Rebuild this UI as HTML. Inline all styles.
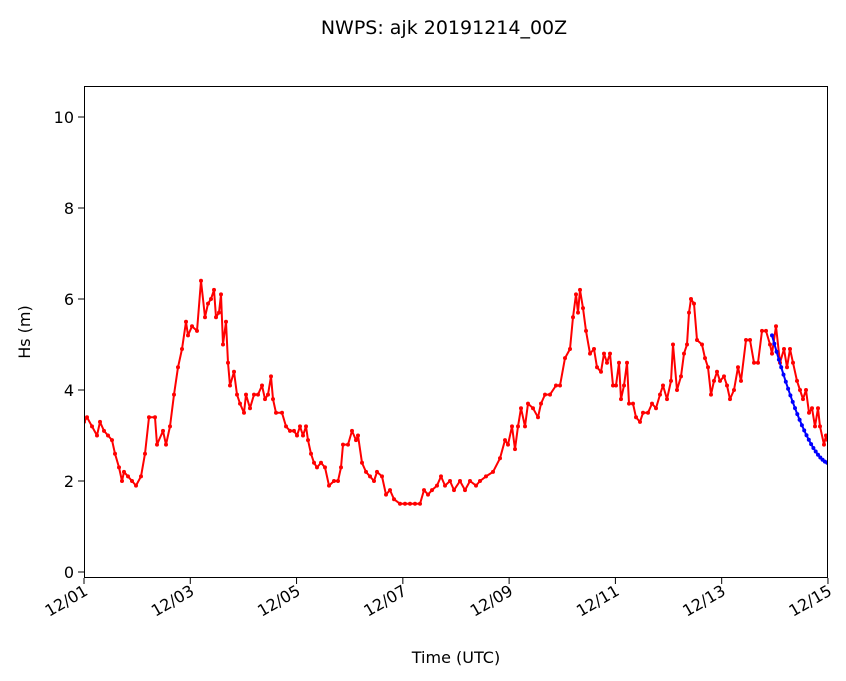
<!DOCTYPE html>
<html><head><meta charset="utf-8"><style>
html,body{margin:0;padding:0;background:#fff;}
svg{display:block;font-family:"DejaVu Sans","Liberation Sans",sans-serif;}
</style></head><body>
<svg id="s" width="846" height="681" viewBox="0 0 846 681" xmlns="http://www.w3.org/2000/svg">
<rect width="846" height="681" fill="#fff"/>
<text x="444" y="34" font-size="19" text-anchor="middle" fill="#000">NWPS: ajk 20191214_00Z</text>
<g id="plot"></g>
<rect x="84.5" y="86.5" width="743" height="491" fill="none" stroke="#000" stroke-width="1"/>
<g id="ax" font-size="16" fill="#000"></g>
<text x="0" y="0" font-size="16" text-anchor="middle" transform="translate(30,332) rotate(-90)">Hs (m)</text>
<text x="456" y="663" font-size="16" text-anchor="middle">Time (UTC)</text>
</svg>
<script>
var Y=function(v){return 572-45.5*v;};
var d=[84,3.3,87,3.4,92,3.2,97,3.0,100,3.3,104,3.1,108,3.0,112,2.9,115,2.6,119,2.3,122,2.0,124,2.2,128,2.1,132,2.0,136,1.9,141,2.1,145,2.6,149,3.4,155,3.4,157,2.8,163,3.1,166,2.8,170,3.2,174,3.9,178,4.5,182,4.9,186,5.5,188,5.2,192,5.4,197,5.3,201,6.4,205,5.6,208,5.9,211,6.0,214,6.2,216,5.6,219,5.7,221,6.1,223,5.0,226,5.5,228,4.6,230,4.1,234,4.4,237,3.9,240,3.7,244,3.5,246,3.9,250,3.6,254,3.9,258,3.9,262,4.1,265,3.8,268,3.9,271,4.3,273,3.8,276,3.5,282,3.5,286,3.2,290,3.1,294,3.1,297,3.0,300,3.2,303,3.0,306,3.2,308,2.9,311,2.6,314,2.4,317,2.3,321,2.4,325,2.3,329,1.9,334,2.0,338,2.0,341,2.3,343,2.8,348,2.8,352,3.1,356,2.9,358,3.0,362,2.4,366,2.2,370,2.1,374,2.0,377,2.2,382,2.1,386,1.7,390,1.8,394,1.6,400,1.5,405,1.5,410,1.5,415,1.5,420,1.5,424,1.8,428,1.7,432,1.8,437,1.9,441,2.1,445,1.9,450,2.0,454,1.8,460,2.0,465,1.8,470,2.0,476,1.9,480,2.0,486,2.1,493,2.2,500,2.5,505,2.9,508,2.8,512,3.2,515,2.7,518,3.2,521,3.6,525,3.2,528,3.7,533,3.6,538,3.4,541,3.7,545,3.9,550,3.9,556,4.1,560,4.1,565,4.7,570,4.9,573,5.6,576,6.1,578,5.7,580,6.2,583,5.8,586,5.3,590,4.8,594,4.9,597,4.5,601,4.4,604,4.8,607,4.6,610,4.8,613,4.1,616,4.1,619,4.6,621,3.8,624,4.1,627,4.6,629,3.7,633,3.7,636,3.4,640,3.3,643,3.5,648,3.5,652,3.7,656,3.6,660,3.9,663,4.1,667,3.8,671,4.2,673,5.0,677,4.0,681,4.3,684,4.8,687,5.0,689,5.7,691,6.0,694,5.9,697,5.1,702,5.0,705,4.7,708,4.5,711,3.9,714,4.2,717,4.4,720,4.2,724,4.3,727,4.1,730,3.8,734,4.0,738,4.5,741,4.2,746,5.1,750,5.1,754,4.6,758,4.6,762,5.3,766,5.3,770,5.0,772,4.8,776,5.4,780,4.6,784,4.9,787,4.5,790,4.9,793,4.6,797,4.2,800,4.0,803,3.8,806,4.0,809,3.5,812,3.6,815,3.2,818,3.6,820,3.2,824,2.8,826,3.0,828,2.9];
var h='';
function series(pts,col){var p='',m='';for(var i=0;i<pts.length;i+=2){var x=pts[i],y=Y(pts[i+1]);p+=x+','+y.toFixed(1)+' ';m+='<circle cx="'+x+'" cy="'+y.toFixed(1)+'" r="2" fill="'+col+'"/>';}
return '<polyline points="'+p+'" fill="none" stroke="'+col+'" stroke-width="2" stroke-linejoin="round"/>'+m;}
h+=series(d,'#ff0000');
var b=[];for(var x=772;x<=828;x+=2.3){var t=(x-772)/56;var v=5.2-2.8*(1-Math.pow(1-t,1.6));b.push(Math.min(x,828),v);}
h+=series(b,'#0000ff');
document.getElementById('plot').innerHTML='<svg x="0" y="0" overflow="visible"><clipPath id="c"><rect x="84" y="86" width="744" height="492"/></clipPath><g clip-path="url(#c)">'+h+'</g></svg>';
var a='';
for(var k=0;k<=10;k+=2){var y=Y(k);a+='<line x1="78" x2="84" y1="'+y+'" y2="'+y+'" stroke="#000"/><text x="74" y="'+(y+6)+'" text-anchor="end">'+k+'</text>';}
var labs=['12/01','12/03','12/05','12/07','12/09','12/11','12/13','12/15'];
for(var i=0;i<8;i++){var x=84+i*2*53.14;a+='<line x1="'+x+'" x2="'+x+'" y1="578" y2="584" stroke="#000"/><text text-anchor="end" transform="translate('+(x+5)+',594) rotate(-30)">'+labs[i]+'</text>';}
document.getElementById('ax').innerHTML=a;
</script>
</body></html>
